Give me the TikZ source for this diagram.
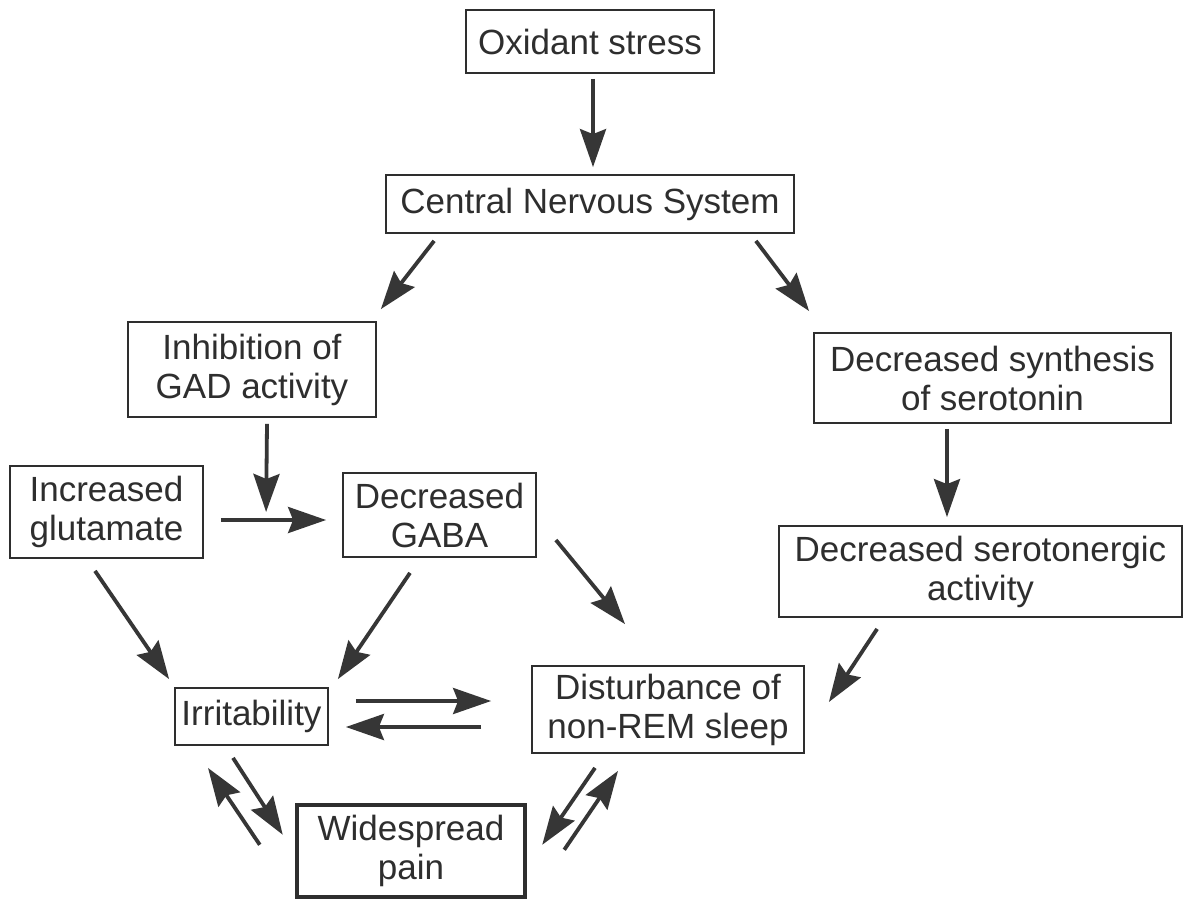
\documentclass[tikz,border=0pt]{standalone}
\usepackage{fontspec}
\setmainfont{Liberation Sans}
\usetikzlibrary{arrows.meta,calc}
\definecolor{ink}{HTML}{2E2E2E}
\definecolor{lineink}{HTML}{363636}
\tikzset{
  box/.style={draw=ink, line width=1.8pt, rectangle, inner sep=0pt, align=center,
    text=ink, font=\fontsize{35}{39}\selectfont},
  bigbox/.style={box, line width=4.5pt},
  arr/.style={draw=lineink, line width=3.8pt,
    -{Stealth[length=38pt,width=26pt,inset=5pt]}}
}
\begin{document}
\begin{tikzpicture}[x=1pt,y=-1pt]
\useasboundingbox[fill=white] (0,0) rectangle (1193,899);
% nodes
\node[box, minimum width=248pt, minimum height=63pt] (ox) at (590,41.5) {Oxidant stress};
\node[box, minimum width=408pt, minimum height=58pt] (cns) at (590,204) {Central Nervous System};
\node[box, minimum width=248pt, minimum height=95pt] (inh) at (252,369.5) {Inhibition of\\GAD activity};
\node[box, minimum width=357pt, minimum height=90pt] (syn) at (992.5,378) {Decreased synthesis\\of serotonin};
\node[box, minimum width=193pt, minimum height=92pt] (glu) at (106.5,512) {Increased\\glutamate};
\node[box, minimum width=193pt, minimum height=84pt] (gaba) at (439.5,515) {Decreased\\GABA};
\node[box, minimum width=403pt, minimum height=91pt] (ser) at (980.5,571.5) {Decreased serotonergic\\activity};
\node[box, minimum width=153pt, minimum height=57pt] (irr) at (251.5,716.5) {Irritability};
\node[box, minimum width=272pt, minimum height=87pt] (dist) at (668,709.5) {Disturbance of\\non-REM sleep};
\node[bigbox, minimum width=228pt, minimum height=92pt] (pain) at (411,851) {Widespread\\pain};
% connectors
\draw[arr] ($(ox.south)+(3,5)$) -- ($(cns.north)+(3,-7)$);
\draw[arr] ($(cns.south west)+(49,7)$) -- ($(inh.north east)+(4,-12)$);
\draw[arr] ($(cns.south east)+(-39,7)$) -- ($(syn.north west)+(-4,-21)$);
\draw[arr] ($(inh.south)+(15,6)$) -- ($(gaba.west)+(-76,-3)$);
\draw[arr] ($(glu.east)+(17,8)$) -- ($(gaba.west)+(-16,5)$);
\draw[arr] ($(glu.south)+(-11.5,12)$) -- ($(irr.north west)+(-5,-8)$);
\draw[arr] ($(gaba.south)+(-29.5,15)$) -- ($(irr.north east)+(9,-8)$);
\draw[arr] ($(gaba.east)+(19,25)$) -- ($(dist.north)+(-43,-41)$);
\draw[arr] ($(syn.south)+(-45.5,5)$) -- ($(ser.north)+(-33.5,-8)$);
\draw[arr] ($(ser.south west)+(99,11)$) -- ($(dist.east)+(24,-7.5)$);
\draw[arr] ($(irr.east)+(27,-15.5)$) -- ($(dist.west)+(-40,-8.5)$);
\draw[arr] ($(dist.west)+(-50,17.5)$) -- ($(irr.east)+(17,10.5)$);
\draw[arr] ($(irr.south)+(-18.5,12)$) -- ($(pain.north west)+(-12,32)$);
\draw[arr] ($(pain.north west)+(-35,42)$) -- ($(irr.south)+(-43.5,22)$);
\draw[arr] ($(dist.south)+(-73,14)$) -- ($(pain.north east)+(15,42)$);
\draw[arr] ($(pain.north east)+(37,47)$) -- ($(dist.south)+(-50,17)$);
\end{tikzpicture}
\end{document}
